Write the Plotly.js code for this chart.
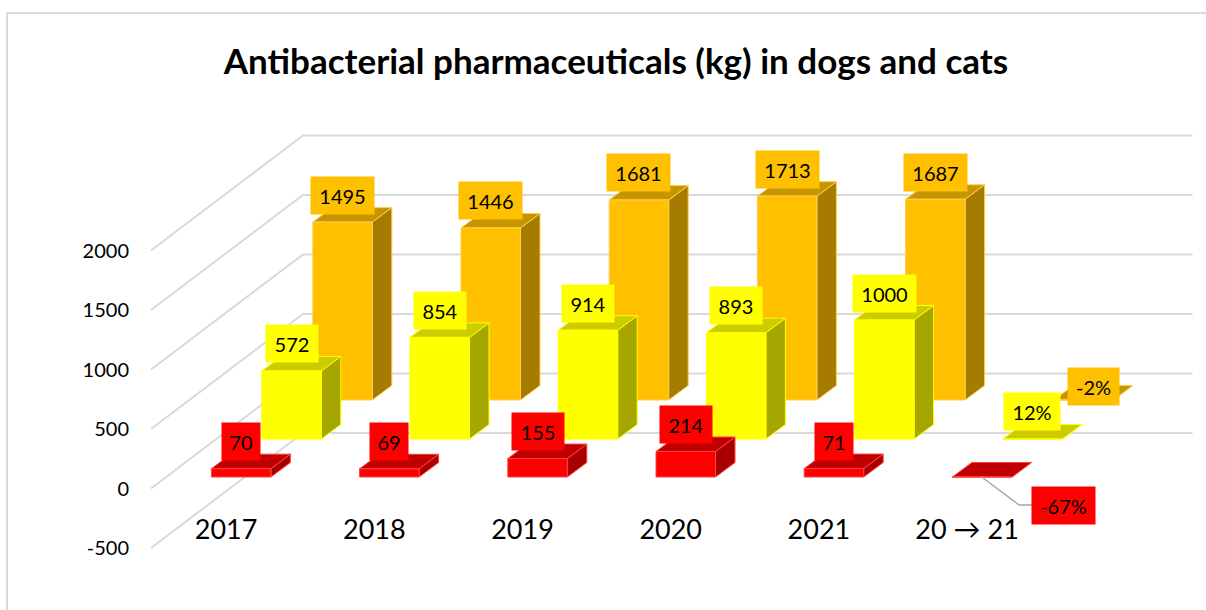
<!DOCTYPE html>
<html>
<head>
<meta charset="utf-8">
<script src="https://cdn.plot.ly/plotly-3.0.1.min.js"></script>
<style>html,body{margin:0;padding:0;background:#fff}</style>
</head>
<body>
<div id="chart" style="width:1206px;height:610px"></div>
<script>
// Data
const categories = ['2017', '2018', '2019', '2020', '2021', '20 \u2192 21'];
const redValues = [70, 69, 155, 214, 71, -0.67];
const yellowValues = [572, 854, 914, 893, 1000, 0.12];
const orangeValues = [1495, 1446, 1681, 1713, 1687, -0.02];
const redLabels = ['70', '69', '155', '214', '71', '-67%'];
const yellowLabels = ['572', '854', '914', '893', '1000', '12%'];
const orangeLabels = ['1495', '1446', '1681', '1713', '1687', '-2%'];
const valueTicks = [-500, 0, 500, 1000, 1500, 2000];

// Oblique projection
const W = 1206, H = 610, LEFT = 130;
const PX_PER_CAT = 148.2, PX_PER_VAL = 0.119, X0 = 211.4, Y0 = 488.5;
const u = px => (px - X0) / PX_PER_CAT;          // pixel span to x-axis units
const dv = px => px / PX_PER_VAL;                // pixel span to value units
const xRange = [u(LEFT), u(W)];
const yRange = [(Y0 - H) / PX_PER_VAL, Y0 / PX_PER_VAL];

const BAR_W = 59.5 / PX_PER_CAT, DEPTH_X = 19.5 / PX_PER_CAT, DEPTH_Y = dv(14.5);

const rows = [
  {vals: orangeValues, labels: orangeLabels, shift: 101.4, base: 88.5, front: '#FFC000', side: '#A67C00', top: '#C69500', edge: '#FFCF4D'},
  {vals: yellowValues, labels: yellowLabels, shift: 50.4, base: 49.5, front: '#FFFF00', side: '#A6A600', top: '#CCCC00', edge: '#FFFF00'},
  {vals: redValues, labels: redLabels, shift: 0, base: 11.5, front: '#FF0000', side: '#A80000', top: '#C00000', edge: '#FF4040'}
];

const traces = [];
function poly(xs, ys, fill, edge, width) {
  traces.push({type: 'scatter', mode: 'lines', x: xs, y: ys, fill: 'toself', fillcolor: fill,
    line: {color: edge, width: width}, hoverinfo: 'skip', showlegend: false, cliponaxis: false});
}

// Gridlines: side wall then back wall
const WALL_DX = 152, WALL_DY = 115, WALL_X0 = 151, WALL_END = 1192.5;
valueTicks.forEach(v => {
  traces.push({type: 'scatter', mode: 'lines',
    x: [u(WALL_X0), u(WALL_X0 + WALL_DX), u(WALL_END)],
    y: [v, v + dv(WALL_DY), v + dv(WALL_DY)],
    line: {color: '#D9D9D9', width: 2}, hoverinfo: 'skip', showlegend: false});
});

const annotations = [];
const labelWidths = {2: 34, 3: 48, 4: 59};
function labelW(t) {
  if (t === '12%') return 52;
  if (t === '-2%') return 47;
  if (t === '-67%') return 59;
  return labelWidths[t.length];
}
function label(x, y, text, color) {
  annotations.push({xref: 'x', yref: 'y', x: x, y: y, text: text, showarrow: false,
    xanchor: 'center', yanchor: 'middle', bgcolor: color, width: labelW(text), height: 33,
    borderpad: 2, font: {family: 'Lato', size: 20, color: '#000'}, align: 'center', valign: 'middle'});
}

rows.forEach(r => {
  categories.forEach((c, i) => {
    const x0 = i + u(X0 + r.shift), x1 = x0 + BAR_W;
    const b = dv(r.base);
    const h = r.vals[i];
    const t = b + Math.max(h, 0);
    // right side
    poly([x1, x1 + DEPTH_X, x1 + DEPTH_X, x1, x1], [b, b + DEPTH_Y, t + DEPTH_Y, t, b], r.side, r.edge, 1);
    // top
    poly([x0, x0 + DEPTH_X, x1 + DEPTH_X, x1, x0], [t, t + DEPTH_Y, t + DEPTH_Y, t, t], r.top, r.edge, 1);
    // front
    poly([x0, x1, x1, x0, x0], [b, b, t, t, b], r.front, r.edge, 1);
  });
});

// Data labels
rows.forEach(r => {
  categories.forEach((c, i) => {
    if (i === categories.length - 1) return;
    const x = i + u(X0 + r.shift) + BAR_W / 2;
    label(x, dv(r.base) + r.vals[i] + dv(27), r.labels[i], r.front);
  });
});
// Moved labels of the change column
const last = categories.length - 1;
const flatCentre = r => last + u(X0 + r.shift) + BAR_W / 2;
label(flatCentre(rows[0]) + 9.5 / PX_PER_CAT, dv(rows[0].base) + dv(13.5), rows[0].labels[last], rows[0].front);
label(flatCentre(rows[1]) - 1 / PX_PER_CAT, dv(rows[1].base) + dv(27.5), rows[1].labels[last], rows[1].front);
label(flatCentre(rows[2]) + 81 / PX_PER_CAT, dv(rows[2].base) - dv(28), rows[2].labels[last], rows[2].front);
// Leader line of the red label
traces.push({type: 'scatter', mode: 'lines',
  x: [flatCentre(rows[2]) - 0.5 / PX_PER_CAT, flatCentre(rows[2]) + 37 / PX_PER_CAT, flatCentre(rows[2]) + 50 / PX_PER_CAT],
  y: [dv(rows[2].base), dv(rows[2].base) - dv(28), dv(rows[2].base) - dv(28)],
  line: {color: '#A6A6A6', width: 1.5}, hoverinfo: 'skip', showlegend: false});

const layout = {
  width: W, height: H, margin: {l: LEFT, r: 0, t: 0, b: 0},
  paper_bgcolor: '#fff', plot_bgcolor: 'rgba(0,0,0,0)', showlegend: false,
  font: {family: 'Lato', color: '#000'},
  title: {text: 'Antibacterial pharmaceuticals (kg) in dogs and cats', x: 616 / W, xref: 'container', xanchor: 'center',
    y: 1 - 62 / H, yref: 'container', yanchor: 'middle', font: {family: 'Lato', size: 35, weight: 700, color: '#000'}},
  xaxis: {range: xRange, domain: [0, 1], anchor: 'free', position: (H - 511) / H, showgrid: false, zeroline: false, showline: false,
    ticks: '', tickmode: 'array', tickvals: categories.map((c, i) => i + u(X0 + 14.7)), ticktext: categories,
    tickfont: {family: 'Lato', size: 27, color: '#000'}, fixedrange: true, tickangle: 0},
  yaxis: {range: yRange, domain: [0, 1], showgrid: false, zeroline: false, showline: false, ticks: '',
    tickmode: 'array', tickvals: valueTicks, ticktext: valueTicks.map(String), tickfont: {family: 'Lato', size: 20, color: '#000'}, fixedrange: true},
  annotations: annotations,
  shapes: [
    {type: 'line', xref: 'paper', yref: 'paper', x0: (7 - LEFT) / (W - LEFT), x1: 1, y0: 1 - 13 / H, y1: 1 - 13 / H, line: {color: '#D9D9D9', width: 2}, layer: 'below'},
    {type: 'line', xref: 'paper', yref: 'paper', x0: (7 - LEFT) / (W - LEFT), x1: (7 - LEFT) / (W - LEFT), y0: 0, y1: 1 - 13 / H, line: {color: '#D9D9D9', width: 2}, layer: 'below'}
  ]
};
Plotly.newPlot('chart', traces, layout, {displayModeBar: false, staticPlot: true});
</script>
</body>
</html>
